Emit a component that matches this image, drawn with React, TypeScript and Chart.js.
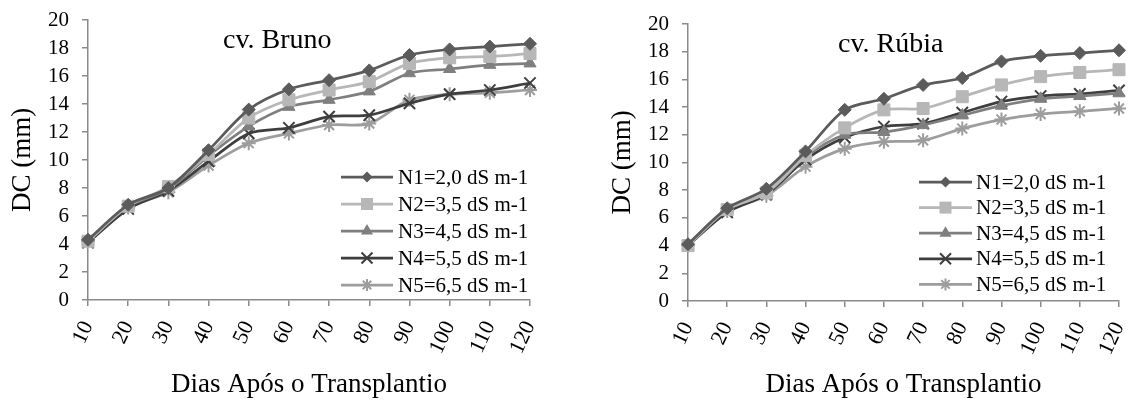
import React, { useEffect, useRef } from "react";
import { Chart, registerables } from "chart.js";

Chart.register(...registerables);

// ---------- data ----------
const days = ["10", "20", "30", "40", "50", "60", "70", "80", "90", "100", "110", "120"];
const seriesNames = [
  "N1=2,0 dS m-1",
  "N2=3,5 dS m-1",
  "N3=4,5 dS m-1",
  "N4=5,5 dS m-1",
  "N5=6,5 dS m-1",
];

const brunoN1 = [4.3, 6.8, 8.0, 10.7, 13.6, 15.05, 15.7, 16.4, 17.5, 17.9, 18.1, 18.3];
const brunoN2 = [4.2, 6.7, 8.1, 10.4, 13.0, 14.3, 15.0, 15.6, 16.9, 17.3, 17.4, 17.6];
const brunoN3 = [4.2, 6.7, 7.9, 10.3, 12.4, 13.8, 14.3, 14.9, 16.2, 16.5, 16.8, 16.9];
const brunoN4 = [4.1, 6.5, 7.8, 9.9, 11.9, 12.3, 13.1, 13.2, 14.05, 14.7, 15.0, 15.5];
const brunoN5 = [4.2, 6.6, 7.7, 9.6, 11.2, 11.9, 12.5, 12.6, 14.3, 14.7, 14.8, 15.0];

const rubiaN1 = [4.1, 6.7, 8.1, 10.8, 13.8, 14.6, 15.6, 16.1, 17.3, 17.7, 17.9, 18.1];
const rubiaN2 = [4.0, 6.6, 7.8, 10.5, 12.5, 13.8, 13.9, 14.75, 15.6, 16.2, 16.5, 16.7];
const rubiaN3 = [4.0, 6.6, 7.8, 10.4, 12.0, 12.2, 12.7, 13.4, 14.1, 14.6, 14.8, 15.0];
const rubiaN4 = [4.0, 6.4, 7.7, 10.2, 11.8, 12.6, 12.8, 13.6, 14.4, 14.8, 14.95, 15.2];
const rubiaN5 = [4.0, 6.5, 7.6, 9.7, 11.0, 11.5, 11.6, 12.45, 13.1, 13.5, 13.7, 13.9];

const yMin = 0;
const yMax = 20;
const yStep = 2;

const xTitle = "Dias Após o Transplantio";
const yTitle = "DC (mm)";

// ---------- styles ----------
const FONT = "'Liberation Serif', 'Times New Roman', serif";
const colors = ["#5b5b5b", "#b7b7b7", "#7f7f7f", "#3e3e3e", "#9d9d9d"];
const pointStyles = ["rectRot", "rect", "triangle", "crossRot", "star"];
const pointRadii = [6.5, 8.5, 7, 8, 7];
const axisColor = "#8a8a8a";

function drawMarker(ctx: CanvasRenderingContext2D, style: string, x: number, y: number, color: string) {
  ctx.save();
  ctx.fillStyle = color;
  ctx.strokeStyle = color;
  ctx.lineWidth = 2;
  ctx.beginPath();
  if (style === "rectRot") {
    const r = 5.5;
    ctx.moveTo(x - r, y);
    ctx.lineTo(x, y - r);
    ctx.lineTo(x + r, y);
    ctx.lineTo(x, y + r);
    ctx.closePath();
    ctx.fill();
  } else if (style === "rect") {
    const h = 6;
    ctx.rect(x - h, y - h, 2 * h, 2 * h);
    ctx.fill();
  } else if (style === "triangle") {
    const r = 7;
    ctx.moveTo(x, y - r);
    ctx.lineTo(x + r * 0.866, y + r * 0.5);
    ctx.lineTo(x - r * 0.866, y + r * 0.5);
    ctx.closePath();
    ctx.fill();
  } else if (style === "crossRot") {
    const d = 5.5;
    ctx.moveTo(x - d, y - d);
    ctx.lineTo(x + d, y + d);
    ctx.moveTo(x + d, y - d);
    ctx.lineTo(x - d, y + d);
    ctx.stroke();
  } else if (style === "star") {
    const r = 6;
    const d = r * 0.707;
    ctx.moveTo(x - d, y - d);
    ctx.lineTo(x + d, y + d);
    ctx.moveTo(x + d, y - d);
    ctx.lineTo(x - d, y + d);
    ctx.moveTo(x, y - r);
    ctx.lineTo(x, y + r);
    ctx.moveTo(x - r, y);
    ctx.lineTo(x + r, y);
    ctx.stroke();
  }
  ctx.restore();
}

type PanelLayout = {
  padLeft: number;
  padRight: number;
  padTop: number;
  xHeight: number;
  titleX: number;
  titleY: number;
  legX0: number;
  legX1: number;
  legTextX: number;
  legY0: number;
  legDy: number;
};

function makeOverlayPlugin(title: string, L: PanelLayout) {
  return {
    id: "overlay",
    afterDatasetsDraw(chart: any) {
      const ctx: CanvasRenderingContext2D = chart.ctx;
      ctx.save();
      ctx.fillStyle = "#000";
      ctx.font = `28px ${FONT}`;
      ctx.textAlign = "left";
      ctx.textBaseline = "alphabetic";
      ctx.fillText(title, L.titleX, L.titleY);

      chart.data.datasets.forEach((ds: any, i: number) => {
        const y = L.legY0 + i * L.legDy;
        ctx.strokeStyle = ds.borderColor;
        ctx.lineWidth = 2.75;
        ctx.beginPath();
        ctx.moveTo(L.legX0, y);
        ctx.lineTo(L.legX1, y);
        ctx.stroke();
        drawMarker(ctx, ds.pointStyle, (L.legX0 + L.legX1) / 2, y, ds.borderColor);
        ctx.fillStyle = "#000";
        ctx.font = `21px ${FONT}`;
        ctx.textBaseline = "middle";
        ctx.fillText(ds.label, L.legTextX, y + 1);
      });
      ctx.restore();
    },
  };
}

function buildConfig(title: string, series: number[][], L: PanelLayout): any {
  return {
    type: "line",
    data: {
      labels: days,
      datasets: series.map((s, i) => ({
        label: seriesNames[i],
        data: s,
        borderColor: colors[i],
        backgroundColor: colors[i],
        pointStyle: pointStyles[i],
        pointRadius: pointRadii[i],
        pointBorderWidth: i >= 3 ? 2 : 1,
        pointBorderColor: colors[i],
        pointBackgroundColor: colors[i],
        borderWidth: 2.75,
        tension: 0.3,
        fill: false,
        clip: false,
      })),
    },
    options: {
      responsive: false,
      animation: false,
      devicePixelRatio: 1,
      events: [],
      layout: { padding: { left: L.padLeft, right: L.padRight, top: L.padTop, bottom: 0 } },
      plugins: {
        legend: { display: false },
        tooltip: { enabled: false },
        title: { display: false },
      },
      scales: {
        x: {
          type: "category",
          offset: false,
          grid: {
            display: true,
            drawOnChartArea: false,
            drawTicks: true,
            tickLength: 6,
            color: axisColor,
            lineWidth: 1.5,
          },
          border: { display: true, color: axisColor, width: 1.5 },
          ticks: {
            autoSkip: false,
            minRotation: 65,
            maxRotation: 65,
            padding: 11,
            color: "#000",
            font: { family: FONT, size: 22 },
          },
          title: {
            display: true,
            text: xTitle,
            color: "#000",
            font: { family: FONT, size: 27 },
            padding: { top: 0, bottom: 2 },
          },
          afterFit: (s: any) => {
            s.height = L.xHeight;
            s.paddingLeft = 0;
            s.paddingRight = 0;
          },
        },
        y: {
          min: yMin,
          max: yMax,
          grid: {
            display: true,
            drawOnChartArea: false,
            drawTicks: true,
            tickLength: 6,
            color: axisColor,
            lineWidth: 1.5,
          },
          border: { display: true, color: axisColor, width: 1.5 },
          ticks: {
            stepSize: yStep,
            autoSkip: false,
            padding: 13,
            color: "#000",
            font: { family: FONT, size: 21 },
          },
          title: {
            display: true,
            text: yTitle,
            color: "#000",
            font: { family: FONT, size: 27 },
            padding: { top: 7, bottom: 0 },
          },
          afterFit: (s: any) => {
            s.width = 88;
            s.paddingTop = 0;
            s.paddingBottom = 0;
          },
        },
      },
    },
    plugins: [makeOverlayPlugin(title, L)],
  };
}

function Panel(props: { left: number; width: number; title: string; series: number[][]; layout: PanelLayout }) {
  const ref = useRef<HTMLCanvasElement | null>(null);
  useEffect(() => {
    if (!ref.current) return;
    const chart = new Chart(ref.current, buildConfig(props.title, props.series, props.layout));
    return () => chart.destroy();
  }, []);
  return (
    <canvas
      ref={ref}
      width={props.width}
      height={403}
      style={{ position: "absolute", left: props.left, top: 0, width: props.width, height: 403, display: "block" }}
    />
  );
}

const leftLayout: PanelLayout = {
  padLeft: 0,
  padRight: 35,
  padTop: 20,
  xHeight: 103,
  titleX: 223,
  titleY: 48,
  legX0: 341,
  legX1: 393,
  legTextX: 398,
  legY0: 177,
  legDy: 27,
};

const rightLayout: PanelLayout = {
  padLeft: 35,
  padRight: 8,
  padTop: 24,
  xHeight: 102,
  titleX: 273,
  titleY: 52,
  legX0: 354,
  legX1: 407,
  legTextX: 411,
  legY0: 182,
  legDy: 25.6,
};

export default function App() {
  return (
    <div style={{ position: "absolute", left: 0, top: 0, width: 1129, height: 403, background: "#fff", overflow: "hidden" }}>
      <Panel left={0} width={565} title="cv. Bruno" series={[brunoN1, brunoN2, brunoN3, brunoN4, brunoN5]} layout={leftLayout} />
      <Panel left={565} width={564} title="cv. Rúbia" series={[rubiaN1, rubiaN2, rubiaN3, rubiaN4, rubiaN5]} layout={rightLayout} />
    </div>
  );
}
